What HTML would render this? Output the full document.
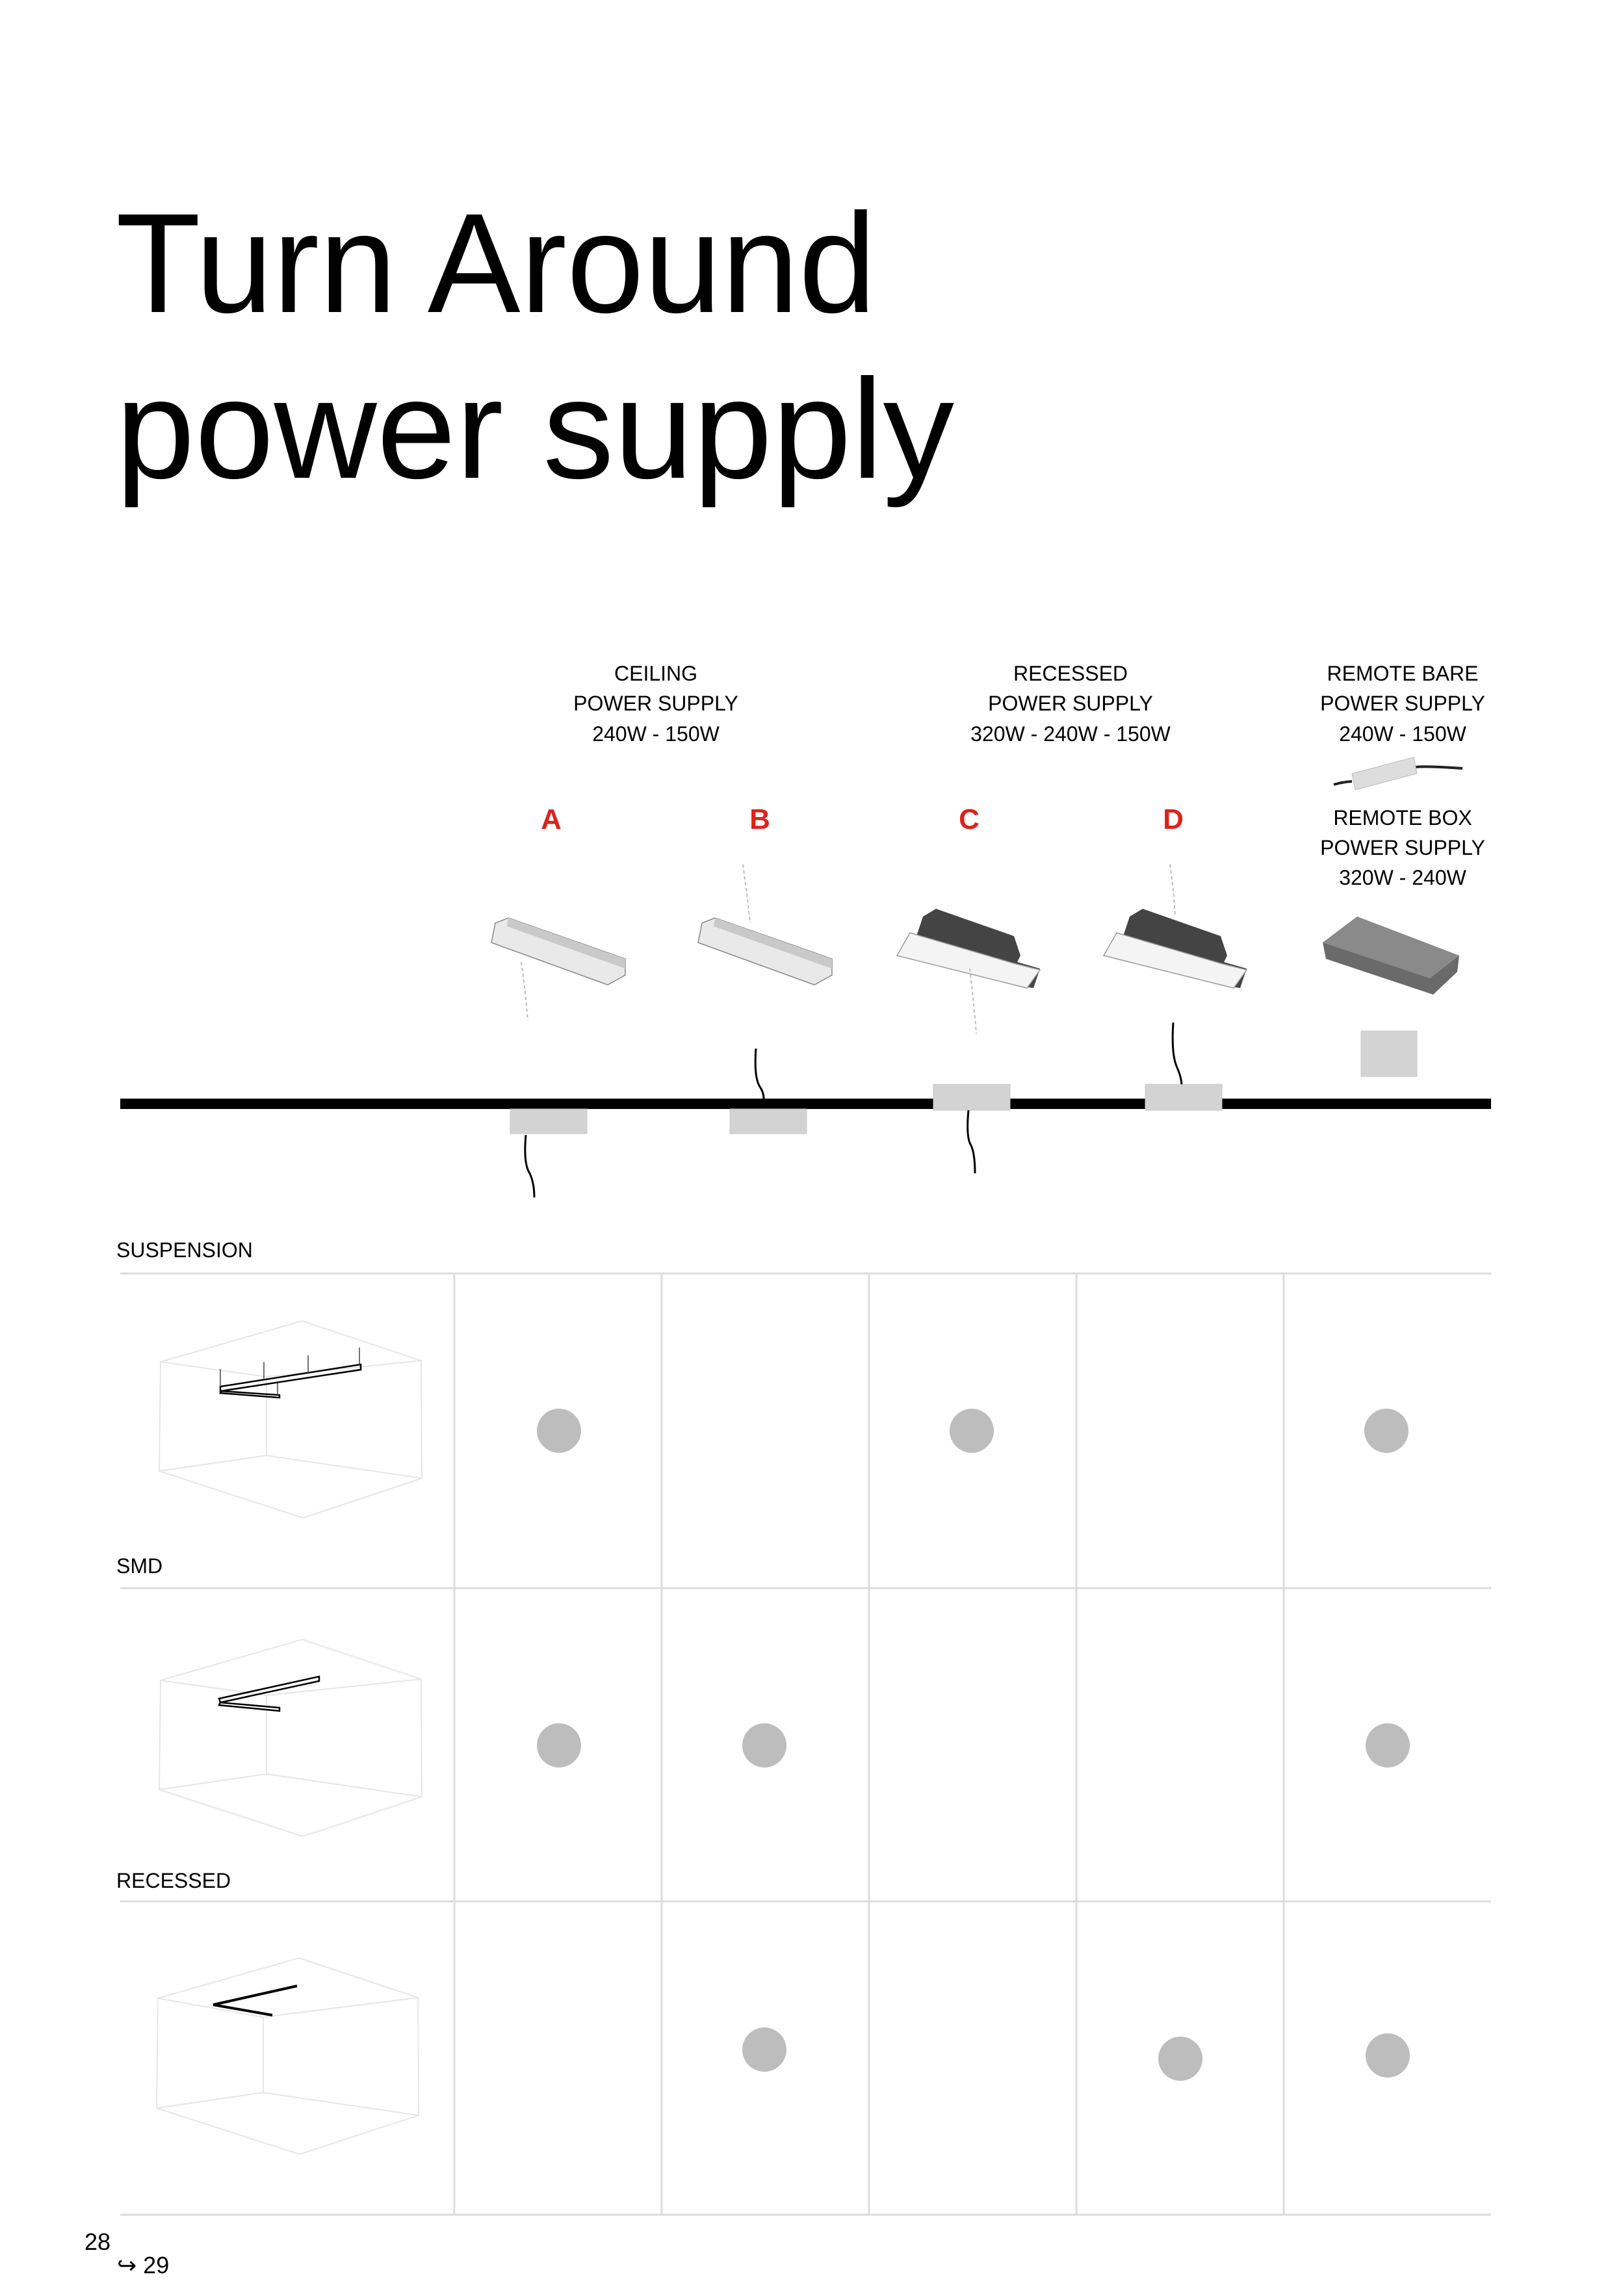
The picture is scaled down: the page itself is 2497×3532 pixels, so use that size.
<!DOCTYPE html>
<html><head><meta charset="utf-8"><style>
html,body{margin:0;padding:0;background:#fff}
svg{display:block}
text{font-family:"Liberation Sans",Arial,sans-serif}
</style></head><body>
<svg width="2497" height="3532" viewBox="0 0 2497 3532" xmlns="http://www.w3.org/2000/svg">
<rect width="2497" height="3532" fill="#fff"/>
<!-- Title -->
<text x="178" y="480" font-size="218" fill="#000" textLength="1170" lengthAdjust="spacingAndGlyphs">Turn Around</text>
<text x="178" y="735" font-size="218" fill="#000" textLength="1290" lengthAdjust="spacingAndGlyphs">power supply</text>

<!-- Headers -->
<g font-size="32" fill="#000" text-anchor="middle">
<text x="1009" y="1047">CEILING</text>
<text x="1009" y="1093">POWER  SUPPLY</text>
<text x="1009" y="1140">240W - 150W</text>
<text x="1647" y="1047">RECESSED</text>
<text x="1647" y="1093">POWER  SUPPLY</text>
<text x="1647" y="1140">320W - 240W - 150W</text>
<text x="2158" y="1047">REMOTE BARE</text>
<text x="2158" y="1093">POWER SUPPLY</text>
<text x="2158" y="1140">240W - 150W</text>
<text x="2158" y="1269">REMOTE BOX</text>
<text x="2158" y="1315">POWER  SUPPLY</text>
<text x="2158" y="1361">320W - 240W</text>
</g>
<g font-size="44" font-weight="bold" fill="#e0201a" text-anchor="middle">
<text x="848" y="1275">A</text>
<text x="1169" y="1275">B</text>
<text x="1491" y="1275">C</text>
<text x="1805" y="1275">D</text>
</g>

<!-- remote bare PSU -->
<path d="M2052 1207 Q2065 1203 2080 1202" stroke="#222" stroke-width="4" fill="none"/>
<path d="M2178 1180 Q2192 1178 2250 1182" stroke="#222" stroke-width="4" fill="none"/>
<polygon points="2080,1190 2175,1165 2180,1190 2085,1215" fill="#ddd" stroke="#bbb"/>

<!-- ceiling A -->
<g>
<polygon points="762,1420 782,1412 962,1475 962,1500 935,1515 756,1450" fill="#e9e9e9" stroke="#888" stroke-width="1.5"/>
<polygon points="782,1412 962,1475 962,1490 780,1425" fill="#c9c9c9"/>
<path d="M802 1480 Q808 1520 812 1570" stroke="#bbb" stroke-width="2" stroke-dasharray="5 4" fill="none"/>
</g>
<g transform="translate(318,0)">
<polygon points="762,1420 782,1412 962,1475 962,1500 935,1515 756,1450" fill="#e9e9e9" stroke="#888" stroke-width="1.5"/>
<polygon points="782,1412 962,1475 962,1490 780,1425" fill="#c9c9c9"/>
</g>
<path d="M1143 1330 Q1150 1380 1154 1420" stroke="#bbb" stroke-width="2" stroke-dasharray="5 4" fill="none"/>
<!-- recessed C, D -->
<g>
<polygon points="1420,1410 1440,1398 1560,1440 1570,1470 1565,1480 1600,1490 1590,1520 1560,1515 1380,1470 1395,1450 1410,1440" fill="#444"/>
<polygon points="1380,1470 1400,1435 1560,1482 1600,1492 1580,1520" fill="#f4f4f4" stroke="#999" stroke-width="1.5"/>
<path d="M1492 1490 Q1498 1540 1502 1590" stroke="#bbb" stroke-width="2" stroke-dasharray="5 4" fill="none"/>
</g>
<g transform="translate(318,0)">
<polygon points="1420,1410 1440,1398 1560,1440 1570,1470 1565,1480 1600,1490 1590,1520 1560,1515 1380,1470 1395,1450 1410,1440" fill="#444"/>
<polygon points="1380,1470 1400,1435 1560,1482 1600,1492 1580,1520" fill="#f4f4f4" stroke="#999" stroke-width="1.5"/>
</g>
<path d="M1800 1330 Q1806 1370 1808 1410" stroke="#bbb" stroke-width="2" stroke-dasharray="5 4" fill="none"/>
<!-- remote box -->
<polygon points="2035,1450 2088,1410 2245,1470 2242,1495 2205,1530 2040,1475" fill="#6a6a6a"/>
<polygon points="2035,1450 2088,1410 2245,1470 2200,1505" fill="#8a8a8a"/>

<!-- main line -->
<rect x="185" y="1690" width="2109" height="16" fill="#000"/>
<g fill="#d3d3d3" stroke="#c8c8c8" stroke-width="1">
<rect x="785" y="1706" width="118" height="38"/>
<rect x="1123" y="1706" width="118" height="38"/>
<rect x="1436" y="1668" width="118" height="40"/>
<rect x="1762" y="1668" width="118" height="40"/>
<rect x="2094" y="1586" width="86" height="70"/>
</g>
<g stroke="#000" stroke-width="3" fill="none">
<path d="M809 1746 Q805 1790 815 1805 Q822 1820 822 1842"/>
<path d="M1163 1613 Q1160 1655 1168 1670 Q1175 1680 1175 1690"/>
<path d="M1490 1708 Q1486 1750 1494 1762 Q1500 1775 1500 1805"/>
<path d="M1805 1573 Q1802 1620 1810 1640 Q1817 1655 1818 1668"/>
</g>

<!-- Table -->
<g font-size="32" fill="#000">
<text x="179" y="1934">SUSPENSION</text>
<text x="179" y="2420">SMD</text>
<text x="179" y="2904">RECESSED</text>
</g>
<g stroke="#dcdcdc" stroke-width="3">
<line x1="185" y1="1959" x2="2294" y2="1959"/>
<line x1="185" y1="2443" x2="2294" y2="2443"/>
<line x1="185" y1="2925" x2="2294" y2="2925"/>
<line x1="185" y1="3407" x2="2294" y2="3407"/>
<line x1="699" y1="1959" x2="699" y2="3407"/>
<line x1="1018" y1="1959" x2="1018" y2="3407"/>
<line x1="1337" y1="1959" x2="1337" y2="3407"/>
<line x1="1656" y1="1959" x2="1656" y2="3407"/>
<line x1="1975" y1="1959" x2="1975" y2="3407"/>
</g>
<g fill="#bdbdbd">
<circle cx="860" cy="2201" r="34"/>
<circle cx="1495" cy="2201" r="34"/>
<circle cx="2133" cy="2201" r="34"/>
<circle cx="860" cy="2685" r="34"/>
<circle cx="1176" cy="2685" r="34"/>
<circle cx="2135" cy="2685" r="34"/>
<circle cx="1176" cy="3153" r="34"/>
<circle cx="1816" cy="3167" r="34"/>
<circle cx="2135" cy="3162" r="34"/>
</g>

<!-- Room sketches -->
<g fill="none" stroke="#e6e6e6" stroke-width="2">
<g id="room1">
<polygon points="465,2032 648,2093 649,2274 466,2335 245,2263 247,2095"/>
<polyline points="247,2095 410,2118 648,2093"/>
<polyline points="410,2118 410,2239"/>
<polyline points="245,2263 410,2239 649,2274"/>
</g>
<g transform="translate(0,490)">
<polygon points="465,2032 648,2093 649,2274 466,2335 245,2263 247,2095"/>
<polyline points="247,2095 410,2118 648,2093"/>
<polyline points="410,2118 410,2239"/>
<polyline points="245,2263 410,2239 649,2274"/>
</g>
<polygon points="460,3012 643,3073 644,3254 461,3314 241,3243 243,3074"/>
<polyline points="243,3074 405,3103 643,3073"/>
<polyline points="405,3103 405,3219"/>
<polyline points="241,3243 405,3219 644,3254"/>
</g>
<!-- suspension bars -->
<g stroke="#000" fill="none">
<polygon points="339,2133 555,2099 555,2107 339,2140" stroke-width="2.5"/>
<polygon points="341,2140 430,2146 430,2150 339,2143" stroke-width="2.5"/>
<g stroke="#444" stroke-width="1.5">
<line x1="339" y1="2106" x2="339" y2="2133"/>
<line x1="406" y1="2095" x2="406" y2="2122"/>
<line x1="474" y1="2085" x2="474" y2="2112"/>
<line x1="553" y1="2073" x2="553" y2="2099"/>
<line x1="427" y1="2128" x2="427" y2="2146"/>
</g>
<polygon points="337,2613 491,2579 491,2586 339,2619" stroke-width="2.5"/>
<polygon points="339,2619 430,2627 430,2632 337,2623" stroke-width="2.5"/>
<g stroke-width="4">
<line x1="328" y1="3084" x2="457" y2="3055"/>
<line x1="328" y1="3084" x2="419" y2="3100"/>
</g>
</g>

<!-- page numbers -->
<text x="130" y="3461" font-size="36" fill="#000">28</text>
<text x="180" y="3497" font-size="36" fill="#000">↪ 29</text>
</svg>
</body></html>
